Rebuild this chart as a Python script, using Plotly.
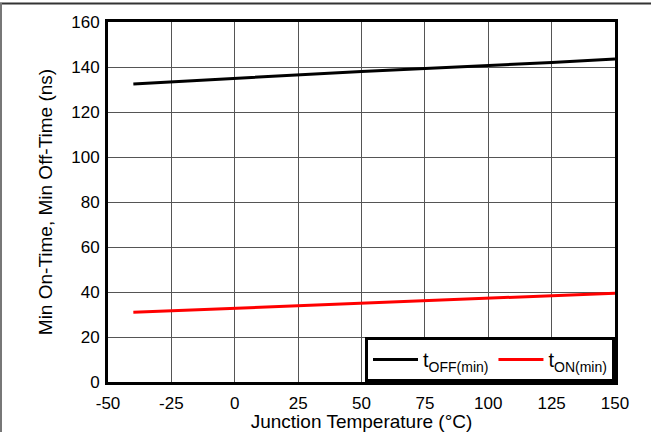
import plotly.graph_objects as go

temps = [-40, 0, 25, 50, 75, 100, 125, 150]
t_off_min = [132.5, 135.0, 136.5, 138.0, 139.3, 140.6, 142.0, 143.6]
t_on_min = [31.0, 32.8, 33.8, 34.8, 36.0, 37.1, 38.3, 39.5]

x_ticks = [-50, -25, 0, 25, 50, 75, 100, 125, 150]
y_ticks = [0, 20, 40, 60, 80, 100, 120, 140, 160]

fam = "Liberation Sans, Arial, sans-serif"
tick_font = dict(family=fam, size=17, color="black")

fig = go.Figure()
fig.add_trace(go.Scatter(x=temps, y=t_off_min, mode="lines",
                         line=dict(color="black", width=3),
                         name="t<sub>OFF(min)</sub>"))
fig.add_trace(go.Scatter(x=temps, y=t_on_min, mode="lines",
                         line=dict(color="#ff0000", width=3),
                         name="t<sub>ON(min)</sub>"))

fig.update_layout(
    width=651, height=432,
    margin=dict(l=108, r=36, t=22, b=50, autoexpand=False),
    paper_bgcolor="white", plot_bgcolor="white",
    font=dict(family=fam, size=16, color="black"),
    showlegend=True,
    legend=dict(x=1, y=0, xanchor="right", yanchor="bottom",
                orientation="h", bgcolor="white",
                bordercolor="black", borderwidth=3,
                font=dict(family=fam, size=20, color="black"),
                itemwidth=45, tracegroupgap=0),
    xaxis=dict(range=[-50, 150], tickvals=x_ticks, ticktext=[str(v) for v in x_ticks],
               showgrid=True, gridcolor="#555", gridwidth=1,
               showline=True, linecolor="black", linewidth=3, mirror=True,
               ticks="", zeroline=False, automargin=False, ticklabelstandoff=4,
               title=dict(text="Junction Temperature (°C)", standoff=6),
               tickfont=tick_font),
    yaxis=dict(range=[0, 160], tickvals=y_ticks, ticktext=[str(v) for v in y_ticks],
               showgrid=True, gridcolor="#555", gridwidth=1,
               showline=True, linecolor="black", linewidth=3, mirror=True,
               ticks="", zeroline=False, automargin=False, ticklabelstandoff=2,
               title=dict(text="Min On-Time, Min Off-Time (ns)", standoff=14),
               tickfont=tick_font),
)

# outer frame lines (top and left)
fig.add_shape(type="line", xref="paper", yref="paper",
              x0=-108/507, x1=(651-108)/507, y0=1 + 18.5/360, y1=1 + 18.5/360,
              line=dict(color="#333", width=2))
fig.add_shape(type="line", xref="paper", yref="paper",
              x0=-107/507, x1=-107/507, y0=-50/360, y1=1 + 19/360,
              line=dict(color="#777", width=2))

fig.write_html("out.html", config={"displayModeBar": False},
               post_script="document.body.style.margin='0';document.body.style.overflow='hidden';")
